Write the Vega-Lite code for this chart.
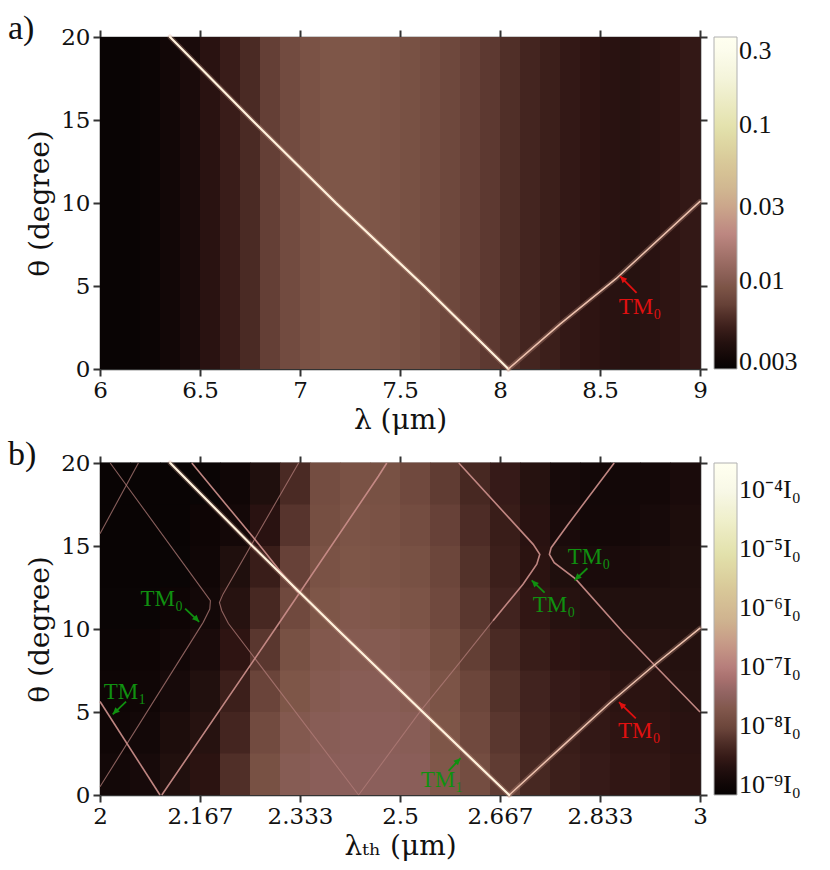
{
"$schema": "https://vega.github.io/schema/vega-lite/v6.json",
"padding": {"left": 8, "top": 12, "right": 4, "bottom": 4},
"background": "white",
"config": {
 "font": "DejaVu Serif",
 "view": {"stroke": null},
 "axis": {"domainColor": "#333", "domainWidth": 1.6, "tickColor": "#333", "tickWidth": 2, "tickSize": 7, "labelFont": "DejaVu Serif", "labelFontSize": 23, "labelColor": "#111", "titleFont": "DejaVu Serif", "titleFontSize": 28, "titleFontWeight": "normal", "titleColor": "#111", "grid": false, "labelPadding": 3, "labelFlush": false, "labelOverlap": false},
 "legend": {"labelFont": "Liberation Serif", "labelFontSize": 26, "labelColor": "#111", "gradientThickness": 23, "gradientStrokeColor": "#b0b0b0", "gradientStrokeWidth": 1, "labelOffset": 5, "offset": 4, "padding": 0, "labelOverlap": false}
},
"spacing": 4,
"resolve": {"scale": {"x": "independent", "y": "independent", "color": "independent"}, "legend": {"color": "independent"}},
"datasets": {
 "tags": [{"panel": "a", "lab": "a)", "l": 5.54, "t": 19.85}, {"panel": "b", "lab": "b)", "l": 1.8467, "t": 19.85}],
 "bandsA": [
  {"l0": 6.0, "l1": 6.1, "I": 0.00284}, {"l0": 6.1, "l1": 6.2, "I": 0.00284}, {"l0": 6.2, "l1": 6.3, "I": 0.00298},
  {"l0": 6.3, "l1": 6.4, "I": 0.00329}, {"l0": 6.4, "l1": 6.5, "I": 0.00363}, {"l0": 6.5, "l1": 6.6, "I": 0.00420},
  {"l0": 6.6, "l1": 6.7, "I": 0.00487}, {"l0": 6.7, "l1": 6.8, "I": 0.00565}, {"l0": 6.8, "l1": 6.9, "I": 0.00688},
  {"l0": 6.9, "l1": 7.0, "I": 0.00797}, {"l0": 7.0, "l1": 7.1, "I": 0.00880}, {"l0": 7.1, "l1": 7.2, "I": 0.00924},
  {"l0": 7.2, "l1": 7.3, "I": 0.00924}, {"l0": 7.3, "l1": 7.4, "I": 0.00924}, {"l0": 7.4, "l1": 7.5, "I": 0.00902},
  {"l0": 7.5, "l1": 7.6, "I": 0.00858}, {"l0": 7.6, "l1": 7.7, "I": 0.00817}, {"l0": 7.7, "l1": 7.8, "I": 0.00759},
  {"l0": 7.8, "l1": 7.9, "I": 0.00705}, {"l0": 7.9, "l1": 8.0, "I": 0.00655}, {"l0": 8.0, "l1": 8.1, "I": 0.00593},
  {"l0": 8.1, "l1": 8.2, "I": 0.00538}, {"l0": 8.2, "l1": 8.3, "I": 0.00500}, {"l0": 8.3, "l1": 8.4, "I": 0.00464},
  {"l0": 8.4, "l1": 8.5, "I": 0.00442}, {"l0": 8.5, "l1": 8.6, "I": 0.00420}, {"l0": 8.6, "l1": 8.7, "I": 0.00410},
  {"l0": 8.7, "l1": 8.8, "I": 0.00420}, {"l0": 8.8, "l1": 8.9, "I": 0.00442}, {"l0": 8.9, "l1": 9.0, "I": 0.00464}
 ],
 "bandsB": [
  {"l0":2.00,"l1":2.05,"t0":0,"t1":2.5,"I":1.22e-9},{"l0":2.00,"l1":2.05,"t0":2.5,"t1":5,"I":1.07e-9},{"l0":2.00,"l1":2.05,"t0":5,"t1":7.5,"I":9.40e-10},{"l0":2.00,"l1":2.05,"t0":7.5,"t1":10,"I":8.81e-10},{"l0":2.00,"l1":2.05,"t0":10,"t1":12.5,"I":8.26e-10},{"l0":2.00,"l1":2.05,"t0":12.5,"t1":15,"I":7.74e-10},{"l0":2.00,"l1":2.05,"t0":15,"t1":17.5,"I":7.74e-10},{"l0":2.00,"l1":2.05,"t0":17.5,"t1":20,"I":7.74e-10},
  {"l0":2.05,"l1":2.10,"t0":0,"t1":2.5,"I":1.39e-9},{"l0":2.05,"l1":2.10,"t0":2.5,"t1":5,"I":1.22e-9},{"l0":2.05,"l1":2.10,"t0":5,"t1":7.5,"I":1.07e-9},{"l0":2.05,"l1":2.10,"t0":7.5,"t1":10,"I":9.40e-10},{"l0":2.05,"l1":2.10,"t0":10,"t1":12.5,"I":8.26e-10},{"l0":2.05,"l1":2.10,"t0":12.5,"t1":15,"I":7.74e-10},{"l0":2.05,"l1":2.10,"t0":15,"t1":17.5,"I":7.74e-10},{"l0":2.05,"l1":2.10,"t0":17.5,"t1":20,"I":7.74e-10},
  {"l0":2.10,"l1":2.15,"t0":0,"t1":2.5,"I":1.80e-9},{"l0":2.10,"l1":2.15,"t0":2.5,"t1":5,"I":1.58e-9},{"l0":2.10,"l1":2.15,"t0":5,"t1":7.5,"I":1.39e-9},{"l0":2.10,"l1":2.15,"t0":7.5,"t1":10,"I":1.14e-9},{"l0":2.10,"l1":2.15,"t0":10,"t1":12.5,"I":9.40e-10},{"l0":2.10,"l1":2.15,"t0":12.5,"t1":15,"I":8.26e-10},{"l0":2.10,"l1":2.15,"t0":15,"t1":17.5,"I":7.74e-10},{"l0":2.10,"l1":2.15,"t0":17.5,"t1":20,"I":7.74e-10},
  {"l0":2.15,"l1":2.20,"t0":0,"t1":2.5,"I":2.33e-9},{"l0":2.15,"l1":2.20,"t0":2.5,"t1":5,"I":2.05e-9},{"l0":2.15,"l1":2.20,"t0":5,"t1":7.5,"I":1.80e-9},{"l0":2.15,"l1":2.20,"t0":7.5,"t1":10,"I":1.48e-9},{"l0":2.15,"l1":2.20,"t0":10,"t1":12.5,"I":1.22e-9},{"l0":2.15,"l1":2.20,"t0":12.5,"t1":15,"I":1.07e-9},{"l0":2.15,"l1":2.20,"t0":15,"t1":17.5,"I":9.40e-10},{"l0":2.15,"l1":2.20,"t0":17.5,"t1":20,"I":8.26e-10},
  {"l0":2.20,"l1":2.25,"t0":0,"t1":2.5,"I":5.41e-9},{"l0":2.20,"l1":2.25,"t0":2.5,"t1":5,"I":4.18e-9},{"l0":2.20,"l1":2.25,"t0":5,"t1":7.5,"I":3.44e-9},{"l0":2.20,"l1":2.25,"t0":7.5,"t1":10,"I":2.49e-9},{"l0":2.20,"l1":2.25,"t0":10,"t1":12.5,"I":2.05e-9},{"l0":2.20,"l1":2.25,"t0":12.5,"t1":15,"I":1.69e-9},{"l0":2.20,"l1":2.25,"t0":15,"t1":17.5,"I":1.30e-9},{"l0":2.20,"l1":2.25,"t0":17.5,"t1":20,"I":1.07e-9},
  {"l0":2.25,"l1":2.30,"t0":0,"t1":2.5,"I":1.43e-8},{"l0":2.25,"l1":2.30,"t0":2.5,"t1":5,"I":1.18e-8},{"l0":2.25,"l1":2.30,"t0":5,"t1":7.5,"I":9.09e-9},{"l0":2.25,"l1":2.30,"t0":7.5,"t1":10,"I":6.57e-9},{"l0":2.25,"l1":2.30,"t0":10,"t1":12.5,"I":4.46e-9},{"l0":2.25,"l1":2.30,"t0":12.5,"t1":15,"I":3.22e-9},{"l0":2.25,"l1":2.30,"t0":15,"t1":17.5,"I":2.18e-9},{"l0":2.25,"l1":2.30,"t0":17.5,"t1":20,"I":1.69e-9},
  {"l0":2.30,"l1":2.35,"t0":0,"t1":2.5,"I":2.40e-8},{"l0":2.30,"l1":2.35,"t0":2.5,"t1":5,"I":2.11e-8},{"l0":2.30,"l1":2.35,"t0":5,"t1":7.5,"I":1.74e-8},{"l0":2.30,"l1":2.35,"t0":7.5,"t1":10,"I":1.43e-8},{"l0":2.30,"l1":2.35,"t0":10,"t1":12.5,"I":1.10e-8},{"l0":2.30,"l1":2.35,"t0":12.5,"t1":15,"I":8.52e-9},{"l0":2.30,"l1":2.35,"t0":15,"t1":17.5,"I":6.16e-9},{"l0":2.30,"l1":2.35,"t0":17.5,"t1":20,"I":4.75e-9},
  {"l0":2.35,"l1":2.40,"t0":0,"t1":2.5,"I":2.73e-8},{"l0":2.35,"l1":2.40,"t0":2.5,"t1":5,"I":2.56e-8},{"l0":2.35,"l1":2.40,"t0":5,"t1":7.5,"I":2.25e-8},{"l0":2.35,"l1":2.40,"t0":7.5,"t1":10,"I":1.98e-8},{"l0":2.35,"l1":2.40,"t0":10,"t1":12.5,"I":1.74e-8},{"l0":2.35,"l1":2.40,"t0":12.5,"t1":15,"I":1.53e-8},{"l0":2.35,"l1":2.40,"t0":15,"t1":17.5,"I":1.34e-8},{"l0":2.35,"l1":2.40,"t0":17.5,"t1":20,"I":1.26e-8},
  {"l0":2.40,"l1":2.45,"t0":0,"t1":2.5,"I":2.92e-8},{"l0":2.40,"l1":2.45,"t0":2.5,"t1":5,"I":2.73e-8},{"l0":2.40,"l1":2.45,"t0":5,"t1":7.5,"I":2.56e-8},{"l0":2.40,"l1":2.45,"t0":7.5,"t1":10,"I":2.25e-8},{"l0":2.40,"l1":2.45,"t0":10,"t1":12.5,"I":1.98e-8},{"l0":2.40,"l1":2.45,"t0":12.5,"t1":15,"I":1.74e-8},{"l0":2.40,"l1":2.45,"t0":15,"t1":17.5,"I":1.63e-8},{"l0":2.40,"l1":2.45,"t0":17.5,"t1":20,"I":1.53e-8},
  {"l0":2.45,"l1":2.50,"t0":0,"t1":2.5,"I":2.92e-8},{"l0":2.45,"l1":2.50,"t0":2.5,"t1":5,"I":2.73e-8},{"l0":2.45,"l1":2.50,"t0":5,"t1":7.5,"I":2.56e-8},{"l0":2.45,"l1":2.50,"t0":7.5,"t1":10,"I":2.25e-8},{"l0":2.45,"l1":2.50,"t0":10,"t1":12.5,"I":1.85e-8},{"l0":2.45,"l1":2.50,"t0":12.5,"t1":15,"I":1.63e-8},{"l0":2.45,"l1":2.50,"t0":15,"t1":17.5,"I":1.53e-8},{"l0":2.45,"l1":2.50,"t0":17.5,"t1":20,"I":1.43e-8},
  {"l0":2.50,"l1":2.55,"t0":0,"t1":2.5,"I":2.73e-8},{"l0":2.50,"l1":2.55,"t0":2.5,"t1":5,"I":2.56e-8},{"l0":2.50,"l1":2.55,"t0":5,"t1":7.5,"I":2.25e-8},{"l0":2.50,"l1":2.55,"t0":7.5,"t1":10,"I":1.98e-8},{"l0":2.50,"l1":2.55,"t0":10,"t1":12.5,"I":1.63e-8},{"l0":2.50,"l1":2.55,"t0":12.5,"t1":15,"I":1.43e-8},{"l0":2.50,"l1":2.55,"t0":15,"t1":17.5,"I":1.26e-8},{"l0":2.50,"l1":2.55,"t0":17.5,"t1":20,"I":1.10e-8},
  {"l0":2.55,"l1":2.60,"t0":0,"t1":2.5,"I":1.85e-8},{"l0":2.55,"l1":2.60,"t0":2.5,"t1":5,"I":1.74e-8},{"l0":2.55,"l1":2.60,"t0":5,"t1":7.5,"I":1.63e-8},{"l0":2.55,"l1":2.60,"t0":7.5,"t1":10,"I":1.34e-8},{"l0":2.55,"l1":2.60,"t0":10,"t1":12.5,"I":1.10e-8},{"l0":2.55,"l1":2.60,"t0":12.5,"t1":15,"I":9.70e-9},{"l0":2.55,"l1":2.60,"t0":15,"t1":17.5,"I":8.52e-9},{"l0":2.55,"l1":2.60,"t0":17.5,"t1":20,"I":7.48e-9},
  {"l0":2.60,"l1":2.65,"t0":0,"t1":2.5,"I":1.26e-8},{"l0":2.60,"l1":2.65,"t0":2.5,"t1":5,"I":1.10e-8},{"l0":2.60,"l1":2.65,"t0":5,"t1":7.5,"I":9.70e-9},{"l0":2.60,"l1":2.65,"t0":7.5,"t1":10,"I":7.98e-9},{"l0":2.60,"l1":2.65,"t0":10,"t1":12.5,"I":6.57e-9},{"l0":2.60,"l1":2.65,"t0":12.5,"t1":15,"I":5.77e-9},{"l0":2.60,"l1":2.65,"t0":15,"t1":17.5,"I":5.07e-9},{"l0":2.60,"l1":2.65,"t0":17.5,"t1":20,"I":4.46e-9},
  {"l0":2.65,"l1":2.70,"t0":0,"t1":2.5,"I":7.48e-9},{"l0":2.65,"l1":2.70,"t0":2.5,"t1":5,"I":6.57e-9},{"l0":2.65,"l1":2.70,"t0":5,"t1":7.5,"I":5.77e-9},{"l0":2.65,"l1":2.70,"t0":7.5,"t1":10,"I":4.75e-9},{"l0":2.65,"l1":2.70,"t0":10,"t1":12.5,"I":3.91e-9},{"l0":2.65,"l1":2.70,"t0":12.5,"t1":15,"I":3.44e-9},{"l0":2.65,"l1":2.70,"t0":15,"t1":17.5,"I":3.22e-9},{"l0":2.65,"l1":2.70,"t0":17.5,"t1":20,"I":3.02e-9},
  {"l0":2.70,"l1":2.75,"t0":0,"t1":2.5,"I":4.46e-9},{"l0":2.70,"l1":2.75,"t0":2.5,"t1":5,"I":4.18e-9},{"l0":2.70,"l1":2.75,"t0":5,"t1":7.5,"I":3.91e-9},{"l0":2.70,"l1":2.75,"t0":7.5,"t1":10,"I":3.22e-9},{"l0":2.70,"l1":2.75,"t0":10,"t1":12.5,"I":2.65e-9},{"l0":2.70,"l1":2.75,"t0":12.5,"t1":15,"I":2.33e-9},{"l0":2.70,"l1":2.75,"t0":15,"t1":17.5,"I":2.18e-9},{"l0":2.70,"l1":2.75,"t0":17.5,"t1":20,"I":2.05e-9},
  {"l0":2.75,"l1":2.80,"t0":0,"t1":2.5,"I":3.44e-9},{"l0":2.75,"l1":2.80,"t0":2.5,"t1":5,"I":3.22e-9},{"l0":2.75,"l1":2.80,"t0":5,"t1":7.5,"I":3.02e-9},{"l0":2.75,"l1":2.80,"t0":7.5,"t1":10,"I":2.49e-9},{"l0":2.75,"l1":2.80,"t0":10,"t1":12.5,"I":2.05e-9},{"l0":2.75,"l1":2.80,"t0":12.5,"t1":15,"I":1.69e-9},{"l0":2.75,"l1":2.80,"t0":15,"t1":17.5,"I":1.48e-9},{"l0":2.75,"l1":2.80,"t0":17.5,"t1":20,"I":1.39e-9},
  {"l0":2.80,"l1":2.85,"t0":0,"t1":2.5,"I":3.02e-9},{"l0":2.80,"l1":2.85,"t0":2.5,"t1":5,"I":2.83e-9},{"l0":2.80,"l1":2.85,"t0":5,"t1":7.5,"I":2.65e-9},{"l0":2.80,"l1":2.85,"t0":7.5,"t1":10,"I":2.18e-9},{"l0":2.80,"l1":2.85,"t0":10,"t1":12.5,"I":1.80e-9},{"l0":2.80,"l1":2.85,"t0":12.5,"t1":15,"I":1.48e-9},{"l0":2.80,"l1":2.85,"t0":15,"t1":17.5,"I":1.30e-9},{"l0":2.80,"l1":2.85,"t0":17.5,"t1":20,"I":1.22e-9},
  {"l0":2.85,"l1":2.90,"t0":0,"t1":2.5,"I":2.65e-9},{"l0":2.85,"l1":2.90,"t0":2.5,"t1":5,"I":2.49e-9},{"l0":2.85,"l1":2.90,"t0":5,"t1":7.5,"I":2.33e-9},{"l0":2.85,"l1":2.90,"t0":7.5,"t1":10,"I":2.05e-9},{"l0":2.85,"l1":2.90,"t0":10,"t1":12.5,"I":1.80e-9},{"l0":2.85,"l1":2.90,"t0":12.5,"t1":15,"I":1.48e-9},{"l0":2.85,"l1":2.90,"t0":15,"t1":17.5,"I":1.30e-9},{"l0":2.85,"l1":2.90,"t0":17.5,"t1":20,"I":1.22e-9},
  {"l0":2.90,"l1":2.95,"t0":0,"t1":2.5,"I":2.65e-9},{"l0":2.90,"l1":2.95,"t0":2.5,"t1":5,"I":2.49e-9},{"l0":2.90,"l1":2.95,"t0":5,"t1":7.5,"I":2.33e-9},{"l0":2.90,"l1":2.95,"t0":7.5,"t1":10,"I":2.05e-9},{"l0":2.90,"l1":2.95,"t0":10,"t1":12.5,"I":1.80e-9},{"l0":2.90,"l1":2.95,"t0":12.5,"t1":15,"I":1.58e-9},{"l0":2.90,"l1":2.95,"t0":15,"t1":17.5,"I":1.39e-9},{"l0":2.90,"l1":2.95,"t0":17.5,"t1":20,"I":1.30e-9},
  {"l0":2.95,"l1":3.00,"t0":0,"t1":2.5,"I":2.33e-9},{"l0":2.95,"l1":3.00,"t0":2.5,"t1":5,"I":2.18e-9},{"l0":2.95,"l1":3.00,"t0":5,"t1":7.5,"I":2.05e-9},{"l0":2.95,"l1":3.00,"t0":7.5,"t1":10,"I":1.92e-9},{"l0":2.95,"l1":3.00,"t0":10,"t1":12.5,"I":1.80e-9},{"l0":2.95,"l1":3.00,"t0":12.5,"t1":15,"I":1.69e-9},{"l0":2.95,"l1":3.00,"t0":15,"t1":17.5,"I":1.58e-9},{"l0":2.95,"l1":3.00,"t0":17.5,"t1":20,"I":1.48e-9}
 ],
 "linesA": [
  {"line": "main", "k": 0, "l": 6.35, "t": 20}, {"line": "main", "k": 1, "l": 6.76, "t": 15}, {"line": "main", "k": 2, "l": 7.18, "t": 10}, {"line": "main", "k": 3, "l": 7.62, "t": 5}, {"line": "main", "k": 4, "l": 8.042, "t": 0},
  {"line": "right", "k": 0, "l": 8.042, "t": 0}, {"line": "right", "k": 1, "l": 8.30, "t": 2.7}, {"line": "right", "k": 2, "l": 8.58, "t": 5.44}, {"line": "right", "k": 3, "l": 9.0, "t": 10.1}
 ],
 "linesB": [
  {"line": "main", "k": 0, "l": 2.117, "t": 20}, {"line": "main", "k": 1, "l": 2.254, "t": 15}, {"line": "main", "k": 2, "l": 2.395, "t": 10}, {"line": "main", "k": 3, "l": 2.538, "t": 5}, {"line": "main", "k": 4, "l": 2.682, "t": 0},
  {"line": "right", "k": 0, "l": 2.682, "t": 0}, {"line": "right", "k": 1, "l": 2.765, "t": 2.75}, {"line": "right", "k": 2, "l": 2.849, "t": 5.53}, {"line": "right", "k": 3, "l": 2.924, "t": 7.83}, {"line": "right", "k": 4, "l": 3.0, "t": 10.05},
  {"line": "sec", "k": 0, "l": 2.153, "t": 20}, {"line": "sec", "k": 1, "l": 2.21, "t": 17.5}, {"line": "sec", "k": 2, "l": 2.256, "t": 15.5}, {"line": "sec", "k": 3, "l": 2.30, "t": 13.5}, {"line": "sec", "k": 4, "l": 2.33, "t": 12.2},
  {"line": "E", "k": 0, "l": 2.0, "t": 15.74}, {"line": "E", "k": 1, "l": 2.064, "t": 20},
  {"line": "A", "k": 0, "l": 2.017, "t": 20}, {"line": "A", "k": 1, "l": 2.17, "t": 12.4}, {"line": "A", "k": 2, "l": 2.184, "t": 11.7}, {"line": "A", "k": 3, "l": 2.183, "t": 11.2}, {"line": "A", "k": 4, "l": 2.172, "t": 10.4}, {"line": "A", "k": 5, "l": 2.0, "t": 0.5},
  {"line": "B", "k": 0, "l": 2.331, "t": 20}, {"line": "B", "k": 1, "l": 2.205, "t": 12.1}, {"line": "B", "k": 2, "l": 2.199, "t": 11.6}, {"line": "B", "k": 3, "l": 2.203, "t": 11.1}, {"line": "B", "k": 4, "l": 2.214, "t": 10.33}, {"line": "B", "k": 5, "l": 2.431, "t": 0},
  {"line": "C", "k": 0, "l": 2.103, "t": 0}, {"line": "C", "k": 1, "l": 2.298, "t": 10.33}, {"line": "C", "k": 2, "l": 2.464, "t": 19.2}, {"line": "C", "k": 3, "l": 2.478, "t": 20},
  {"line": "D", "k": 0, "l": 2.0, "t": 5.63}, {"line": "D", "k": 1, "l": 2.1, "t": 0},
  {"line": "F", "k": 0, "l": 2.431, "t": 0}, {"line": "F", "k": 1, "l": 2.534, "t": 5.05}, {"line": "F", "k": 2, "l": 2.60, "t": 8.0}, {"line": "F", "k": 3, "l": 2.655, "t": 10.5},
  {"line": "K1", "k": 0, "l": 2.655, "t": 10.5}, {"line": "K1", "k": 1, "l": 2.705, "t": 12.7}, {"line": "K1", "k": 2, "l": 2.728, "t": 13.9}, {"line": "K1", "k": 3, "l": 2.733, "t": 14.5}, {"line": "K1", "k": 4, "l": 2.722, "t": 15.1}, {"line": "K1", "k": 5, "l": 2.598, "t": 20},
  {"line": "K2", "k": 0, "l": 2.857, "t": 20}, {"line": "K2", "k": 1, "l": 2.78, "t": 16.3}, {"line": "K2", "k": 2, "l": 2.752, "t": 14.9}, {"line": "K2", "k": 3, "l": 2.749, "t": 14.5}, {"line": "K2", "k": 4, "l": 2.757, "t": 14.0}, {"line": "K2", "k": 5, "l": 2.793, "t": 13.0}, {"line": "K2", "k": 6, "l": 2.871, "t": 9.83}, {"line": "K2", "k": 7, "l": 2.924, "t": 7.83}, {"line": "K2", "k": 8, "l": 3.0, "t": 5.0}
 ],
 "annA": [
  {"lab": "TM₀", "src": "FH", "tx": 8.70, "ty": 3.73, "x0": 8.683, "y0": 4.58, "x1": 8.60, "y1": 5.6, "dir": "NW"}
 ],
 "annB": [
  {"lab": "TM₀", "src": "FH", "tx": 2.8987, "ty": 3.83, "x0": 2.893, "y0": 4.62, "x1": 2.865, "y1": 5.59, "dir": "NW"},
  {"lab": "TM₀", "src": "TH", "tx": 2.815, "ty": 14.33, "x0": 2.8123, "y0": 13.66, "x1": 2.791, "y1": 12.93, "dir": "SW"},
  {"lab": "TM₀", "src": "TH", "tx": 2.7568, "ty": 11.43, "x0": 2.741, "y0": 12.19, "x1": 2.7195, "y1": 12.93, "dir": "NW"},
  {"lab": "TM₁", "src": "TH", "tx": 2.570, "ty": 0.92, "x0": 2.581, "y0": 1.46, "x1": 2.601, "y1": 2.22, "dir": "NE"},
  {"lab": "TM₀", "src": "TH", "tx": 2.103, "ty": 11.79, "x0": 2.1419, "y0": 11.23, "x1": 2.1653, "y1": 10.43, "dir": "SE"},
  {"lab": "TM₁", "src": "TH", "tx": 2.0417, "ty": 6.23, "x0": 2.0434, "y0": 5.62, "x1": 2.0212, "y1": 4.86, "dir": "SW"}
 ]
},
"vconcat": [
 {
  "width": 600, "height": 332,
  "layer": [
   {"data": {"name": "bandsA"}, "mark": {"type": "rect", "x2Offset": 0.6},
    "encoding": {
     "x": {"field": "l0", "type": "quantitative", "scale": {"domain": [6, 9], "nice": false, "zero": false}, "axis": {"orient": "bottom", "values": [6, 6.5, 7, 7.5, 8, 8.5, 9], "format": "~g", "title": "λ (μm)", "titlePadding": 4}},
     "x2": {"field": "l1"},
     "color": {"field": "I", "type": "quantitative", "scale": {"type": "log", "nice": false, "domain": [0.0027,0.003453,0.004417,0.005647,0.007225,0.009239,0.01182,0.01511,0.01932,0.02596,0.03663,0.05704,0.09331,0.1527,0.2495,0.37], "range": ["#050303","#140808","#2e1412","#4a2a24","#6a443a","#7e5648","#8e6260","#a8706e","#bc8480","#c69c88","#cfb490","#d8c898","#e2e0aa","#eeeec8","#f8f8e8","#ffffff"]},
      "legend": {"type": "gradient", "title": null, "orient": "right", "direction": "vertical", "values": [0.003, 0.01, 0.03, 0.1, 0.3], "format": "~g", "gradientLength": 332}}
    }},
   {"data": {"name": "linesA"}, "mark": {"type": "line", "color": "#d8a090", "strokeWidth": 5, "opacity": 0.28, "strokeCap": "round"},
    "encoding": {
     "x": {"field": "l", "type": "quantitative", "axis": null},
     "y": {"field": "t", "type": "quantitative", "scale": {"domain": [0, 20], "nice": false}, "axis": {"orient": "left", "values": [0, 5, 10, 15, 20], "title": "θ (degree)", "titlePadding": 6}},
     "detail": {"field": "line"}, "order": {"field": "k"}
    }},
   {"data": {"name": "linesA"}, "transform": [{"filter": "datum.line == 'main'"}], "mark": {"type": "line", "color": "#fff2dc", "strokeWidth": 2.2, "strokeCap": "round"},
    "encoding": {"x": {"field": "l", "type": "quantitative", "axis": null}, "y": {"field": "t", "type": "quantitative", "axis": null}, "order": {"field": "k"}}},
   {"data": {"name": "linesA"}, "transform": [{"filter": "datum.line == 'right'"}], "mark": {"type": "line", "color": "#eec2ae", "strokeWidth": 1.5, "strokeCap": "round"},
    "encoding": {"x": {"field": "l", "type": "quantitative", "axis": null}, "y": {"field": "t", "type": "quantitative", "axis": null}, "order": {"field": "k"}}},
   {"data": {"name": "annA"}, "mark": {"type": "rule", "color": "#e01010", "strokeWidth": 1.8},
    "encoding": {"x": {"field": "x0", "type": "quantitative", "axis": null}, "y": {"field": "y0", "type": "quantitative", "axis": null}, "x2": {"field": "x1"}, "y2": {"field": "y1"}}},
   {"data": {"name": "annA"}, "mark": {"type": "point", "filled": true, "size": 170, "opacity": 1, "strokeWidth": 0},
    "encoding": {"x": {"field": "x1", "type": "quantitative", "axis": null}, "y": {"field": "y1", "type": "quantitative", "axis": null},
     "shape": {"field": "dir", "type": "nominal", "scale": {"domain": ["NE", "NW", "SE", "SW"], "range": ["M0,0L-0.4,1.1L-1.1,0.4Z", "M0,0L1.1,0.4L0.4,1.1Z", "M0,0L-0.4,-1.1L-1.1,-0.4Z", "M0,0L1.1,-0.4L0.4,-1.1Z"]}, "legend": null},
     "fill": {"field": "src", "type": "nominal", "scale": {"domain": ["FH", "TH"], "range": ["#e01010", "#109010"]}, "legend": null}}},
   {"data": {"name": "annA"}, "mark": {"type": "text", "font": "Liberation Serif", "fontSize": 23, "align": "center", "baseline": "middle"},
    "encoding": {
     "x": {"field": "tx", "type": "quantitative", "axis": {"orient": "top", "values": [6, 6.5, 7, 7.5, 8, 8.5, 9], "labels": false, "title": null}},
     "y": {"field": "ty", "type": "quantitative", "axis": {"orient": "right", "values": [0, 5, 10, 15, 20], "labels": false, "title": null}},
     "text": {"field": "lab"},
     "fill": {"field": "src", "type": "nominal", "scale": {"domain": ["FH", "TH"], "range": ["#e01010", "#109010"]}, "legend": null}}},
   {"data": {"name": "tags"}, "transform": [{"filter": "datum.panel == 'a'"}], "mark": {"type": "text", "font": "Liberation Serif", "fontSize": 34, "align": "left", "baseline": "alphabetic", "color": "#111"},
    "encoding": {"x": {"field": "l", "type": "quantitative", "axis": null}, "y": {"field": "t", "type": "quantitative", "axis": null}, "text": {"field": "lab"}}}
  ],
  "resolve": {"axis": {"x": "independent", "y": "independent"}}
 },
 {
  "width": 600, "height": 332,
  "layer": [
   {"data": {"name": "bandsB"}, "mark": {"type": "rect", "x2Offset": 0.6, "y2Offset": -0.6},
    "encoding": {
     "x": {"field": "l0", "type": "quantitative", "scale": {"domain": [2, 3], "nice": false, "zero": false}, "axis": {"orient": "bottom", "values": [2, 2.16667, 2.33333, 2.5, 2.66667, 2.83333, 3], "format": ".3~f", "title": "λₜₕ (μm)", "titlePadding": 4}},
     "x2": {"field": "l1"},
     "y": {"field": "t0", "type": "quantitative", "scale": {"domain": [0, 20], "nice": false}, "axis": {"orient": "left", "values": [0, 5, 10, 15, 20], "title": "θ (degree)", "titlePadding": 6}},
     "y2": {"field": "t1"},
     "color": {"field": "I", "type": "quantitative", "scale": {"type": "log", "nice": false, "domain": [6.8e-10,1.3e-9,2.486e-9,4.753e-9,9.09e-9,1.738e-8,3.323e-8,6.353e-8,1.215e-7,2.645e-7,6.552e-7,2.104e-6,7.691e-6,2.812e-5,1.028e-4,2.9e-4], "range": ["#050303","#140808","#2e1412","#4a2a24","#6a443a","#7e5648","#8e6260","#a8706e","#bc8480","#c69c88","#cfb490","#d8c898","#e2e0aa","#eeeec8","#f8f8e8","#ffffff"]},
      "legend": {"type": "gradient", "title": null, "orient": "right", "direction": "vertical", "values": [1e-9, 1e-8, 1e-7, 1e-6, 1e-5, 1e-4], "gradientLength": 332,
       "labelExpr": "datum.value < 3e-9 ? '10⁻⁹I₀' : datum.value < 3e-8 ? '10⁻⁸I₀' : datum.value < 3e-7 ? '10⁻⁷I₀' : datum.value < 3e-6 ? '10⁻⁶I₀' : datum.value < 3e-5 ? '10⁻⁵I₀' : '10⁻⁴I₀'"}}
    }},
   {"data": {"name": "linesB"}, "transform": [{"filter": {"field": "line", "oneOf": ["main", "right"]}}], "mark": {"type": "line", "color": "#d8a090", "strokeWidth": 5, "opacity": 0.28, "strokeCap": "round"},
    "encoding": {"x": {"field": "l", "type": "quantitative", "axis": null}, "y": {"field": "t", "type": "quantitative", "axis": null}, "detail": {"field": "line"}, "order": {"field": "k"}}},
   {"data": {"name": "linesB"}, "transform": [{"filter": {"field": "line", "oneOf": ["A", "B", "E", "F"]}}], "mark": {"type": "line", "color": "#b27c78", "strokeWidth": 1.1, "opacity": 0.75},
    "encoding": {"x": {"field": "l", "type": "quantitative", "axis": null}, "y": {"field": "t", "type": "quantitative", "axis": null}, "detail": {"field": "line"}, "order": {"field": "k"}}},
   {"data": {"name": "linesB"}, "transform": [{"filter": {"field": "line", "oneOf": ["C", "D", "K1", "K2", "sec"]}}], "mark": {"type": "line", "color": "#c88c88", "strokeWidth": 1.6, "opacity": 0.95},
    "encoding": {"x": {"field": "l", "type": "quantitative", "axis": null}, "y": {"field": "t", "type": "quantitative", "axis": null}, "detail": {"field": "line"}, "order": {"field": "k"}}},
   {"data": {"name": "linesB"}, "transform": [{"filter": "datum.line == 'right'"}], "mark": {"type": "line", "color": "#eec2ae", "strokeWidth": 1.5, "strokeCap": "round"},
    "encoding": {"x": {"field": "l", "type": "quantitative", "axis": null}, "y": {"field": "t", "type": "quantitative", "axis": null}, "order": {"field": "k"}}},
   {"data": {"name": "linesB"}, "transform": [{"filter": "datum.line == 'main'"}], "mark": {"type": "line", "color": "#fff2dc", "strokeWidth": 2.2, "strokeCap": "round"},
    "encoding": {"x": {"field": "l", "type": "quantitative", "axis": null}, "y": {"field": "t", "type": "quantitative", "axis": null}, "order": {"field": "k"}}},
   {"data": {"name": "annB"}, "transform": [{"filter": "datum.src == 'FH'"}], "mark": {"type": "rule", "color": "#e01010", "strokeWidth": 1.8},
    "encoding": {"x": {"field": "x0", "type": "quantitative", "axis": null}, "y": {"field": "y0", "type": "quantitative", "axis": null}, "x2": {"field": "x1"}, "y2": {"field": "y1"}}},
   {"data": {"name": "annB"}, "transform": [{"filter": "datum.src == 'TH'"}], "mark": {"type": "rule", "color": "#109010", "strokeWidth": 1.8},
    "encoding": {"x": {"field": "x0", "type": "quantitative", "axis": null}, "y": {"field": "y0", "type": "quantitative", "axis": null}, "x2": {"field": "x1"}, "y2": {"field": "y1"}}},
   {"data": {"name": "annB"}, "mark": {"type": "point", "filled": true, "size": 170, "opacity": 1, "strokeWidth": 0},
    "encoding": {"x": {"field": "x1", "type": "quantitative", "axis": null}, "y": {"field": "y1", "type": "quantitative", "axis": null},
     "shape": {"field": "dir", "type": "nominal", "scale": {"domain": ["NE", "NW", "SE", "SW"], "range": ["M0,0L-0.4,1.1L-1.1,0.4Z", "M0,0L1.1,0.4L0.4,1.1Z", "M0,0L-0.4,-1.1L-1.1,-0.4Z", "M0,0L1.1,-0.4L0.4,-1.1Z"]}, "legend": null},
     "fill": {"field": "src", "type": "nominal", "scale": {"domain": ["FH", "TH"], "range": ["#e01010", "#109010"]}, "legend": null}}},
   {"data": {"name": "annB"}, "mark": {"type": "text", "font": "Liberation Serif", "fontSize": 23, "align": "center", "baseline": "middle"},
    "encoding": {
     "x": {"field": "tx", "type": "quantitative", "axis": {"orient": "top", "values": [2, 2.16667, 2.33333, 2.5, 2.66667, 2.83333, 3], "labels": false, "title": null}},
     "y": {"field": "ty", "type": "quantitative", "axis": {"orient": "right", "values": [0, 5, 10, 15, 20], "labels": false, "title": null}},
     "text": {"field": "lab"},
     "fill": {"field": "src", "type": "nominal", "scale": {"domain": ["FH", "TH"], "range": ["#e01010", "#109010"]}, "legend": null}}},
   {"data": {"name": "tags"}, "transform": [{"filter": "datum.panel == 'b'"}], "mark": {"type": "text", "font": "Liberation Serif", "fontSize": 34, "align": "left", "baseline": "alphabetic", "color": "#111"},
    "encoding": {"x": {"field": "l", "type": "quantitative", "axis": null}, "y": {"field": "t", "type": "quantitative", "axis": null}, "text": {"field": "lab"}}}
  ],
  "resolve": {"axis": {"x": "independent", "y": "independent"}}
 }
]
}
